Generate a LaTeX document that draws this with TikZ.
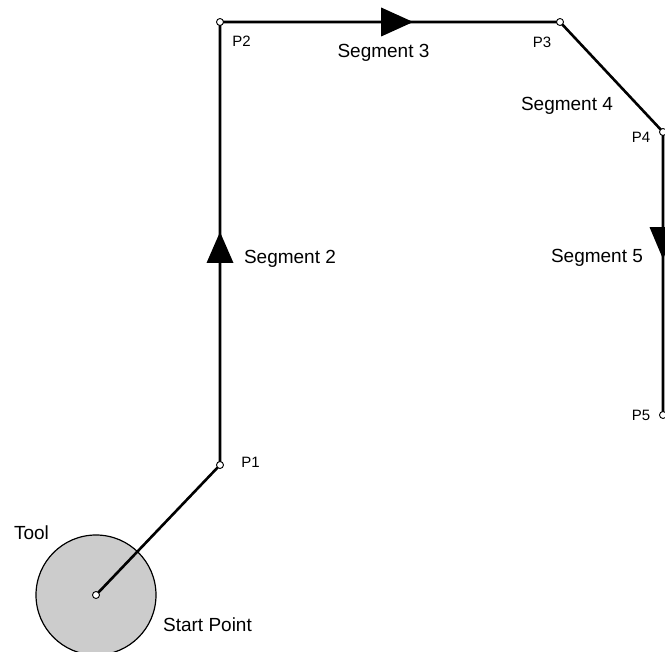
\documentclass[tikz,border=0pt]{standalone}
\usepackage{fontspec}
\setmainfont{Liberation Sans}
\usetikzlibrary{calc}
\definecolor{toolgray}{HTML}{CCCCCC}
\tikzset{
  path/.style={line width=2.6pt},
  pt/.style={circle,draw=black,fill=white,line width=0.9pt,inner sep=0pt,minimum size=7pt},
  biglab/.style={anchor=base,inner sep=0pt,font=\fontsize{19}{22}\selectfont},
  smalllab/.style={anchor=base,inner sep=0pt,font=\fontsize{15}{18}\selectfont},
  arrowtri/.style={fill=black}
}
\begin{document}
\begin{tikzpicture}[x=1pt,y=-1pt]
\useasboundingbox (0,0) rectangle (665,652);
\clip (0,0) rectangle (665,652);
\coordinate (s) at (96,595);
\coordinate (p1) at (220,465);
\coordinate (p2) at (220,22);
\coordinate (p3) at (560,22);
\coordinate (p4) at (663,132);
\coordinate (p5) at (663,415);
% tool
\draw[fill=toolgray,line width=1.2pt] (s) circle[radius=60];
% path
\draw[path,line join=miter] (s) -- (p1) -- (p2) -- (p3) -- (p4) -- (p5);
% arrows
\fill[arrowtri] ($(p1)!0.456!(p2)+(-13.5,0)$) -- ($(p1)!0.456!(p2)+(13.5,0)$) -- ($(p1)!0.526!(p2)$) -- cycle;
\fill[arrowtri] ($(p2)!0.474!(p3)+(0,-14.5)$) -- ($(p2)!0.474!(p3)+(0,14.5)$) -- ($(p2)!0.568!(p3)$) -- cycle;
\fill[arrowtri] ($(p4)!0.336!(p5)+(-13.5,0)$) -- ($(p4)!0.336!(p5)+(13.5,0)$) -- ($(p4)!0.449!(p5)$) -- cycle;
% points
\node[pt] (ns) at (s) {};
\node[pt] (n1) at (p1) {};
\node[pt] (n2) at (p2) {};
\node[pt] (n3) at (p3) {};
\node[pt] (n4) at (p4) {};
\node[pt] (n5) at (p5) {};
% labels
\node[smalllab] (l1) at (250.5,468) {P1};
\node[smalllab] (l2) at (241.5,47) {P2};
\node[smalllab] (l3) at (542,48) {P3};
\node[smalllab] (l4) at (641,143) {P4};
\node[smalllab] (l5) at (641,421) {P5};
\node[biglab] (sg2) at (290,264) {Segment 2};
\node[biglab] (sg3) at (383.5,58) {Segment 3};
\node[biglab] (sg4) at (567,111) {Segment 4};
\node[biglab] (sg5) at (597,263) {Segment 5};
\node[biglab] (tool) at (31.5,540) {Tool};
\node[biglab] (start) at (207.5,631) {Start Point};
\end{tikzpicture}
\end{document}
